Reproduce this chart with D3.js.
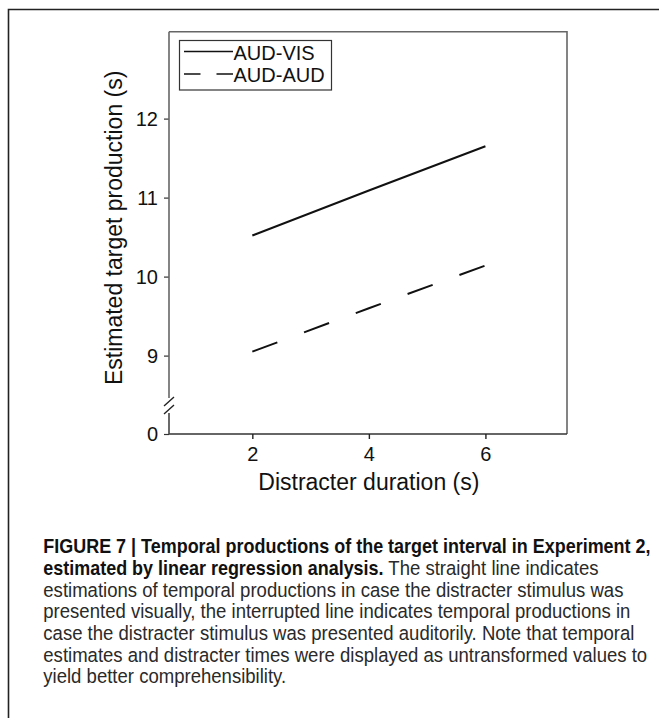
<!DOCTYPE html>
<html><head><meta charset="utf-8">
<script src="https://cdn.jsdelivr.net/npm/d3@7"></script>
<style>body{margin:0;background:#fff}</style>
</head><body><svg id="c" width="659" height="718"></svg>
<script>
// ---- data ----
const durations = [2, 4, 6];
const audVis = [10.52, 11.09, 11.65];
const audAud = [9.05, 9.60, 10.14];
const seriesNames = ["AUD-VIS", "AUD-AUD"];
const yTicks = [0, 9, 10, 11, 12];
const xTicks = [2, 4, 6];
const xTitle = "Distracter duration (s)";
const yTitle = "Estimated target production (s)";
const captionBold1 = "FIGURE 7 | Temporal productions of the target interval in Experiment 2,";
const captionBold2 = "estimated by linear regression analysis.";
const captionRest2 = "The straight line indicates";
const captionLines = [
  "estimations of temporal productions in case the distracter stimulus was",
  "presented visually, the interrupted line indicates temporal productions in",
  "case the distracter stimulus was presented auditorily. Note that temporal",
  "estimates and distracter times were displayed as untransformed values to",
  "yield better comprehensibility."
];

// ---- layout ----
const svg = d3.select("#c");
const L = 169, R = 567, T = 31.7, B = 434;
const x = d3.scaleLinear().domain([0.57, 7.4]).range([L, R]);
const y = d3.scaleLinear().domain([0, 8.4, 13.1]).range([B, 403, T]);
const font = "'Liberation Sans', Arial, Helvetica, sans-serif";

// outer figure border (left + top visible)
svg.append("path").attr("d", "M8.5,720 L8.5,9.5 L700,9.5")
  .attr("fill", "none").attr("stroke", "#222").attr("stroke-width", 1.6);

// plot frame: top, right, bottom
svg.append("path").attr("d", `M${L},${T} L${R},${T} L${R},${B}`)
  .attr("fill", "none").attr("stroke", "#666").attr("stroke-width", 1.6);
svg.append("line").attr("x1", L).attr("x2", R).attr("y1", B).attr("y2", B)
  .attr("stroke", "#333").attr("stroke-width", 1.6);

// y axis (broken)
const yAxis = d3.axisLeft(y).tickValues(yTicks).tickFormat(d3.format("d"))
  .tickSize(5).tickPadding(6).tickSizeOuter(0);
const gy = svg.append("g").attr("transform", `translate(${L},0)`).call(yAxis);
gy.select(".domain").remove();
gy.selectAll(".tick line").attr("stroke", "#333").attr("stroke-width", 1.2);
gy.selectAll(".tick text").attr("font-family", font).attr("font-size", 20).attr("fill", "#111");
svg.append("line").attr("x1", L).attr("x2", L).attr("y1", T).attr("y2", 398)
  .attr("stroke", "#666").attr("stroke-width", 1.6);
svg.append("line").attr("x1", L).attr("x2", L).attr("y1", 413).attr("y2", B)
  .attr("stroke", "#444").attr("stroke-width", 1.6);
[401.5, 409.5].forEach(cy => {
  svg.append("line").attr("x1", L - 5).attr("y1", cy + 4.5).attr("x2", L + 5).attr("y2", cy - 4.5)
    .attr("stroke", "#222").attr("stroke-width", 1.4);
});

// x axis ticks
const xAxis = d3.axisBottom(x).tickValues(xTicks).tickFormat(d3.format("d"))
  .tickSize(5).tickPadding(8).tickSizeOuter(0);
const gx = svg.append("g").attr("transform", `translate(0,${B})`).call(xAxis);
gx.select(".domain").remove();
gx.selectAll(".tick line").attr("stroke", "#222").attr("stroke-width", 1.4);
gx.selectAll(".tick text").attr("font-family", font).attr("font-size", 20).attr("fill", "#111");

// axis titles
svg.append("text").attr("x", (x(2) + x(6)) / 2).attr("y", 490).attr("text-anchor", "middle")
  .attr("font-family", font).attr("font-size", 23).attr("fill", "#111").text(xTitle);
svg.append("text").attr("transform", `translate(122,${(T + B) / 2 - 5}) rotate(-90)`)
  .attr("text-anchor", "middle").attr("font-family", font).attr("font-size", 23)
  .attr("fill", "#111").text(yTitle);

// lines
const line = d3.line().x((d, i) => x(durations[i])).y(d => y(d));
svg.append("path").datum(audVis).attr("d", line).attr("fill", "none")
  .attr("stroke", "#111").attr("stroke-width", 2);
svg.append("path").datum(audAud).attr("d", line).attr("fill", "none")
  .attr("stroke", "#111").attr("stroke-width", 2).attr("stroke-dasharray", "26.7,28.5");

// legend
svg.append("rect").attr("x", 179.5).attr("y", 40.5).attr("width", 152).attr("height", 49.5)
  .attr("fill", "#fff").attr("stroke", "#333").attr("stroke-width", 1.2);
svg.append("line").attr("x1", 184).attr("x2", 233).attr("y1", 51.5).attr("y2", 51.5)
  .attr("stroke", "#111").attr("stroke-width", 1.3);
svg.append("line").attr("x1", 184).attr("x2", 233).attr("y1", 74).attr("y2", 74)
  .attr("stroke", "#111").attr("stroke-width", 1.3).attr("stroke-dasharray", "16.5,16");
svg.append("text").attr("x", 233.5).attr("y", 60).attr("font-family", font).attr("font-size", 20)
  .attr("fill", "#111").text(seriesNames[0]);
svg.append("text").attr("x", 233.5).attr("y", 82).attr("font-family", font).attr("font-size", 20)
  .attr("fill", "#111").text(seriesNames[1]);

// caption: condensed look via horizontal scaling
const cfont = "'Liberation Sans', Arial, sans-serif";
const cx = 43.3, lh = 21.67, base = 553.3, fs = 19.5;
function measure(str, bold) {
  const t = svg.append("text").attr("font-family", cfont).attr("font-size", fs)
    .attr("font-weight", bold ? "bold" : "normal").text(str);
  const w = t.node().getComputedTextLength();
  t.remove();
  return w;
}
const sBold = (651 - cx) / measure(captionBold1, true);
const sReg = (624 - cx) / measure(captionLines[0], false);
function ctext(str, x0, yy, bold) {
  const s = bold ? sBold : sReg;
  svg.append("text").attr("transform", `translate(${x0},${yy}) scale(${s},1)`)
    .attr("font-family", cfont).attr("font-size", fs)
    .attr("font-weight", bold ? "bold" : "normal")
    .attr("fill", bold ? "#111" : "#2a2a2a").text(str);
  return measure(str, bold) * s;
}
ctext(captionBold1, cx, base, true);
const wb = ctext(captionBold2, cx, base + lh, true);
ctext(captionRest2, cx + wb + 4.5, base + lh, false);
captionLines.forEach((s, i) => ctext(s, cx, base + lh * (i + 2), false));
</script></body></html>
